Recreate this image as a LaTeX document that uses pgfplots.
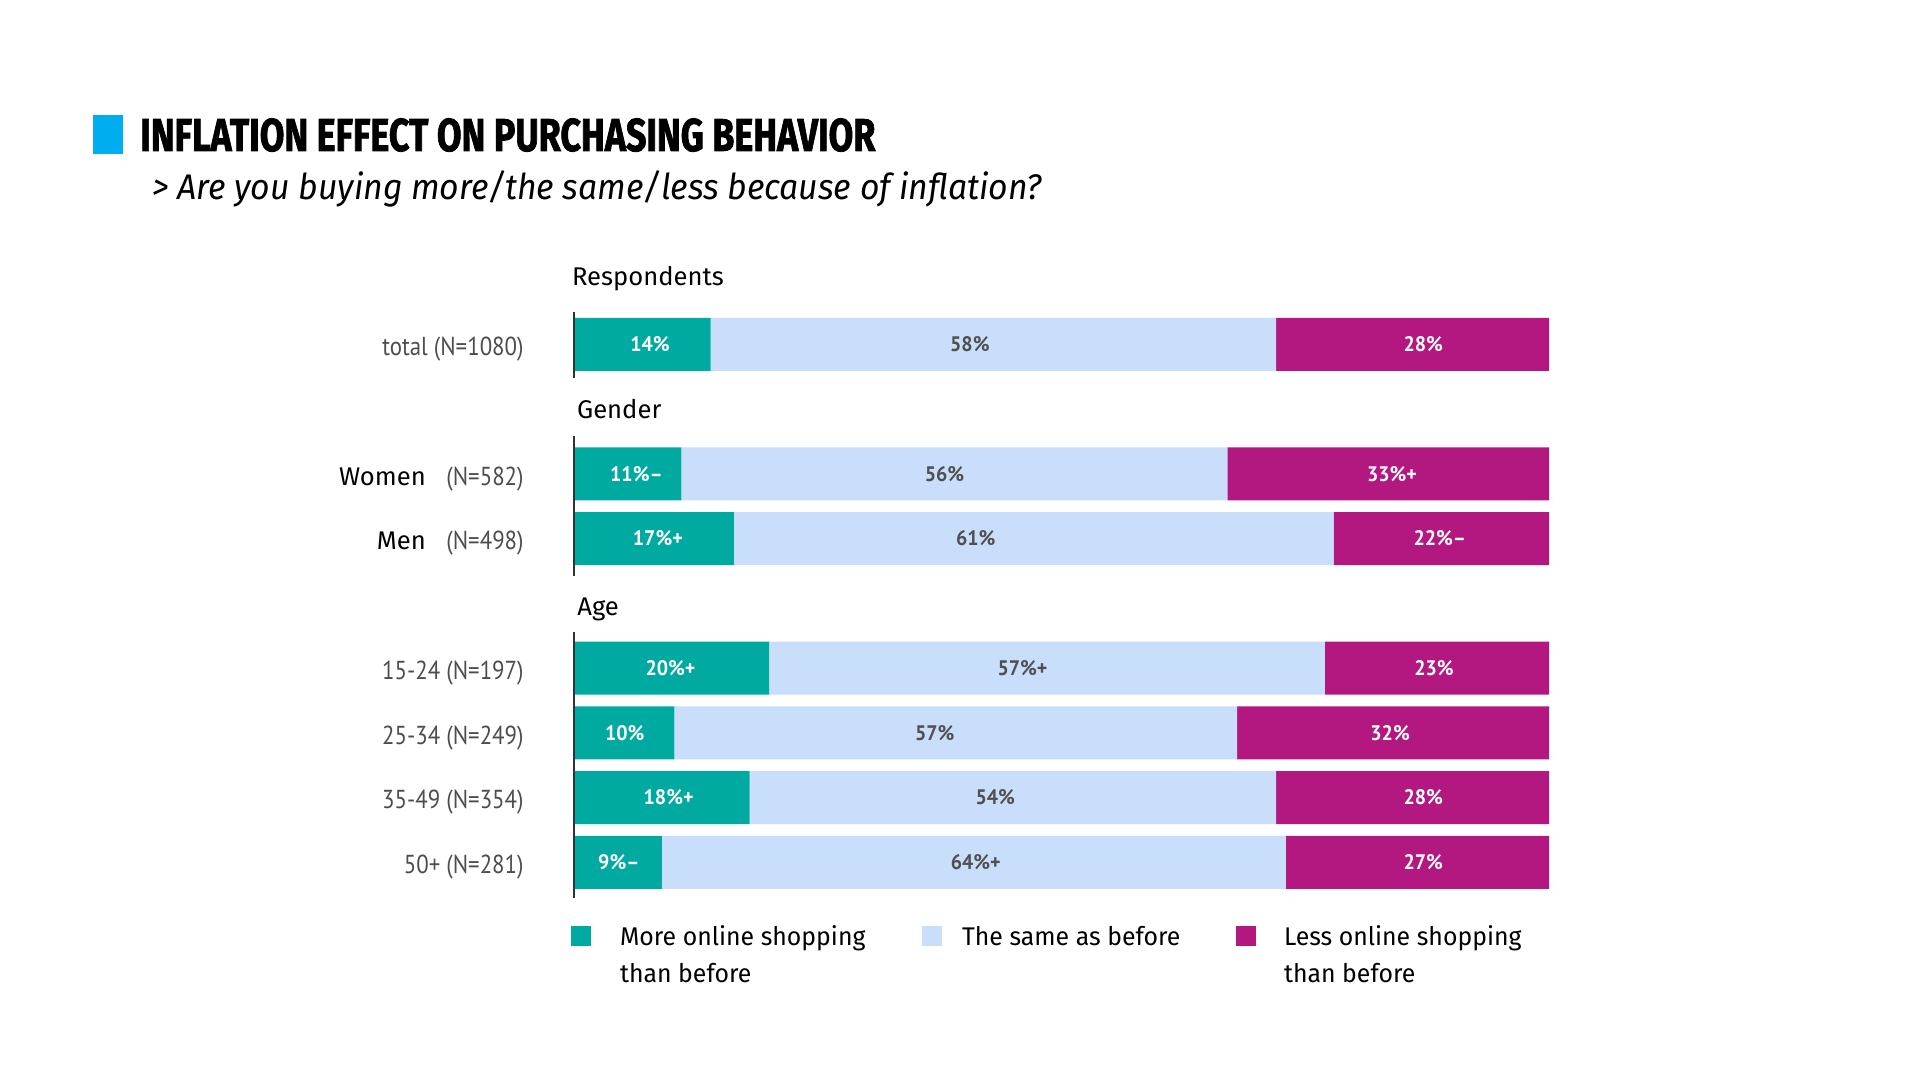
\documentclass[border=0pt]{standalone}
\usepackage{fontspec}
\setmainfont{Fira Sans}
\usepackage{pgfplots}
\pgfplotsset{compat=1.18}
\newfontfamily\titlefont[BoldFeatures={FakeBold=1.8}]{Fira Sans}
\newfontfamily\catfont[FakeStretch=0.88]{PT Sans}
\newfontfamily\valfont[FakeStretch=0.95]{PT Sans}
\newfontfamily\legfont[FakeStretch=0.97]{Fira Sans}
\definecolor{cteal}{RGB}{0,170,160}
\definecolor{clight}{RGB}{200,222,250}
\definecolor{cmag}{RGB}{178,24,128}
\definecolor{sqblue}{RGB}{0,174,239}
\definecolor{catgray}{RGB}{77,77,77}
\definecolor{labgray}{RGB}{80,80,80}
\definecolor{lineg}{RGB}{50,50,50}
\newcommand{\cat}[1]{{\catfont\fontsize{13}{15}\selectfont\color{catgray}#1}}
\newcommand{\grp}[1]{{\fontsize{12.8}{15}\selectfont #1}}
\begin{document}
\begin{tikzpicture}[x=0.5pt,y=0.5pt]
\path[use as bounding box] (0,0) rectangle (1920,1080);
\fill[sqblue] (93.3,925.7) rectangle (122.7,965);
\node[anchor=base west, inner sep=0pt] at (140,929) {\resizebox{367.5pt}{16.35pt}{\titlefont\bfseries INFLATION EFFECT ON PURCHASING BEHAVIOR}};
\node[anchor=base west, inner sep=0pt] at (151.7,880) {\resizebox{445pt}{\height}{\fontsize{17.8}{20}\selectfont\itshape > Are you buying more/the same/less because of inflation?}};

\begin{axis}[
  at={(287pt,400.175pt)}, anchor=north west,
  scale only axis, width=487.5pt, height=323.75pt,
  xmin=0, xmax=100, ymin=-1, ymax=9, y dir=reverse,
  xbar stacked, bar width=0.82,
  axis line style={draw=none}, xtick=\empty,
  ytick={0,2,3,5,6,7,8},
  yticklabels={
    {\cat{total (N=1080)}},
    {\grp{Women}\hspace{10.3pt}\cat{(N=582)}},
    {\grp{Men}\hspace{10.3pt}\cat{(N=498)}},
    {\cat{15-24 (N=197)}},
    {\cat{25-34 (N=249)}},
    {\cat{35-49 (N=354)}},
    {\cat{50+ (N=281)}}},
  ytick style={draw=none}, major tick length=0pt,
  yticklabel style={anchor=east, inner sep=0pt, xshift=-25pt, yshift=-2.4pt},
  clip=false,
  legend columns=3,
  legend style={at={(-0.003,0.002)}, anchor=north west, draw=none, fill=none,
    inner sep=0pt, outer sep=0pt, row sep=0pt, column sep=0pt,
    cells={anchor=base west},
    nodes={inner sep=0pt, font=\legfont\fontsize{12.8}{18.3}\selectfont}},
  legend image code/.code={\fill[#1] (0pt,0pt) rectangle (10pt,10pt);},
]
\addplot[fill=cteal, draw=none] coordinates {(14,0) (11,2) (16.4,3) (20,5) (10.3,6) (18,7) (9,8)};
\addplot[fill=clight, draw=none] coordinates {(58,0) (56,2) (61.5,3) (57,5) (57.7,6) (54,7) (64,8)};
\addplot[fill=cmag, draw=none] coordinates {(28,0) (33,2) (22.1,3) (23,5) (32,6) (28,7) (27,8)};
\legend{
  {\hspace*{14.5pt}\parbox[t]{151pt}{More online shopping\\than before}},
  {\hspace*{10pt}\parbox[t]{137pt}{The same as before}},
  {\hspace*{14pt}\parbox[t]{140pt}{Less online shopping\\than before}}}
\end{axis}

\begin{axis}[
  at={(287pt,400.175pt)}, anchor=north west,
  scale only axis, width=487.5pt, height=323.75pt,
  xmin=0, xmax=100, ymin=-1, ymax=9, y dir=reverse,
  hide axis, clip=false,
]
\addplot[draw=lineg, line width=1.2pt] coordinates {(0,-0.5) (0,0.52)};
\addplot[draw=lineg, line width=1.2pt] coordinates {(0,1.42) (0,3.57)};
\addplot[draw=lineg, line width=1.2pt] coordinates {(0,4.44) (0,8.55)};
\addplot[only marks, mark=*, mark size=0pt,
  mark options={line width=0pt, draw opacity=0, fill opacity=0},
  point meta=explicit symbolic, nodes near coords,
  nodes near coords style={anchor=center, text=white, inner sep=0pt,
    text opacity=1, font=\valfont\bfseries\fontsize{10.5}{12}\selectfont}]
  coordinates {(7.8,0)[14\%] (87.1,0)[28\%] (6.4,2)[11\%–] (83.9,2)[33\%+]
    (8.6,3)[17\%+] (88.8,3)[22\%–] (9.9,5)[20\%+] (88.2,5)[23\%]
    (5.2,6)[10\%] (83.7,6)[32\%] (9.7,7)[18\%+] (87.1,7)[28\%]
    (4.6,8)[9\%–] (87.1,8)[27\%]};
\addplot[only marks, mark=*, mark size=0pt,
  mark options={line width=0pt, draw opacity=0, fill opacity=0},
  point meta=explicit symbolic, nodes near coords,
  nodes near coords style={anchor=center, text=labgray, inner sep=0pt,
    text opacity=1, font=\valfont\bfseries\fontsize{10.5}{12}\selectfont}]
  coordinates {(40.6,0)[58\%] (38.0,2)[56\%] (41.2,3)[61\%] (46.0,5)[57\%+]
    (37.0,6)[57\%] (43.2,7)[54\%] (41.2,8)[64\%+]};
\node[anchor=base west, inner sep=0pt] at (axis cs:-0.24,-0.917) {\grp{Respondents}};
\node[anchor=base west, inner sep=0pt] at (axis cs:0.28,1.15) {\grp{Gender}};
\node[anchor=base west, inner sep=0pt] at (axis cs:0.3,4.18) {\grp{Age}};
\end{axis}
\end{tikzpicture}
\end{document}
